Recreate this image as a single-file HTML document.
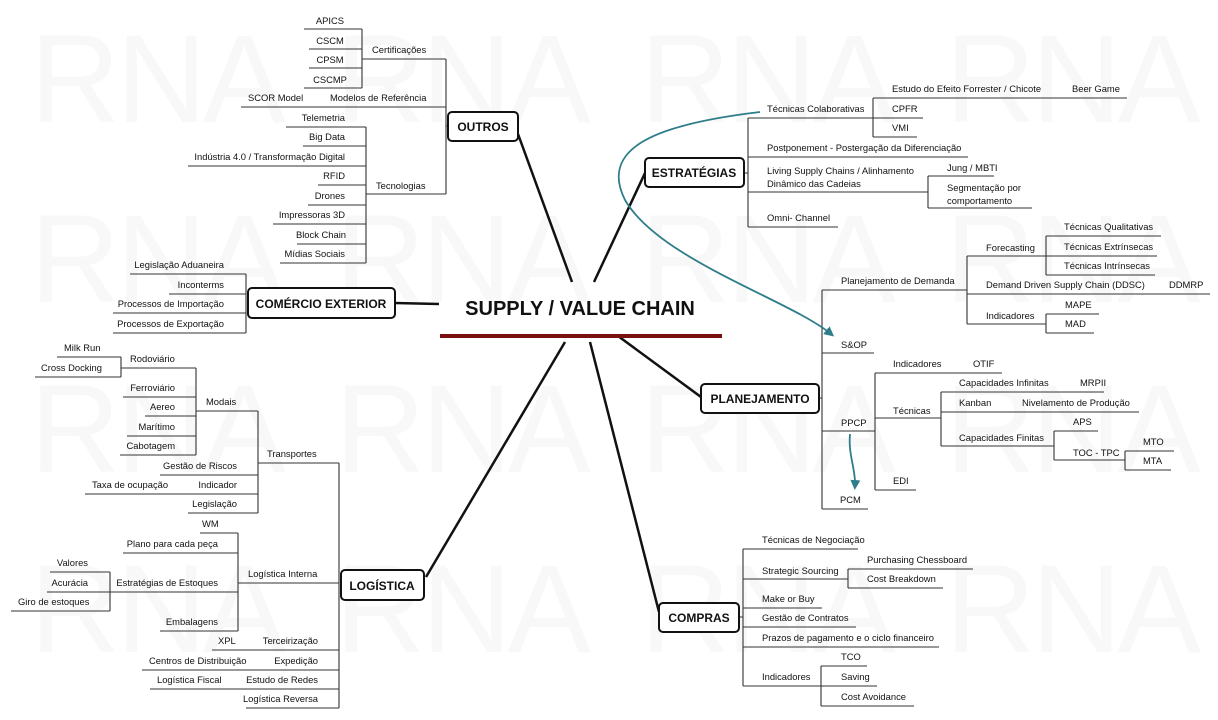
<!DOCTYPE html>
<html><head><meta charset="utf-8"><style>
html,body{margin:0;padding:0;background:#fff;}
svg{display:block;}
text{font-family:"Liberation Sans",sans-serif;font-size:9.4px;fill:#111;}
.b{font-weight:bold;font-size:12px;}
.e{text-anchor:end;}
.m{text-anchor:middle;}
.l{fill:none;stroke:#333;stroke-width:1.1;}
.box{fill:#fff;stroke:#111;stroke-width:2;}
.wm{font-size:125px;fill:#f8f8f8;font-family:"Liberation Sans",sans-serif;letter-spacing:-4px;}
</style></head><body>
<svg width="1218" height="720" viewBox="0 0 1218 720" xmlns="http://www.w3.org/2000/svg">
<defs><marker id="ar" markerWidth="10" markerHeight="10" refX="6" refY="5" orient="auto" markerUnits="userSpaceOnUse"><path d="M0,0 L10,5 L0,10 z" fill="#2e7d8a"/></marker></defs>

<!-- watermark -->
<g class="wm">
<text class="wm" x="30" y="122">RNA</text><text class="wm" x="335" y="122">RNA</text><text class="wm" x="640" y="122">RNA</text><text class="wm" x="945" y="122">RNA</text>
<text class="wm" x="30" y="302">RNA</text><text class="wm" x="335" y="302">RNA</text><text class="wm" x="640" y="302">RNA</text><text class="wm" x="945" y="302">RNA</text>
<text class="wm" x="30" y="472">RNA</text><text class="wm" x="335" y="472">RNA</text><text class="wm" x="640" y="472">RNA</text><text class="wm" x="945" y="472">RNA</text>
<text class="wm" x="30" y="652">RNA</text><text class="wm" x="335" y="652">RNA</text><text class="wm" x="640" y="652">RNA</text><text class="wm" x="945" y="652">RNA</text>
</g>

<!-- main connectors -->
<g stroke="#111" stroke-width="2.5" fill="none">
<path d="M518 134 L572 282"/>
<path d="M645 173 L594 282"/>
<path d="M618 336 L701 397"/>
<path d="M590 342 L659 612"/>
<path d="M565 342 L426 577"/>
<path d="M395 303 L439 304"/>
</g>

<!-- center -->
<text x="580" y="315" class="m" style="font-weight:bold;font-size:20px">SUPPLY / VALUE CHAIN</text>
<rect x="440" y="334" width="282" height="4" fill="#7a1010"/>

<!-- OUTROS -->
<path class="l" d="M304 29H362M309 49H362M309 68H362M304 88H362M362 29V88M362 59H446M446 59V194M241 107H446M366 127V263M286 127H366M303 146H366M188 166H366M318 185H366M308 205H366M273 224H366M297 244H366M280 263H366M366 194H446M446 126H448"/>
<text x="330" y="24" class="m">APICS</text>
<text x="330" y="44" class="m">CSCM</text>
<text x="330" y="63" class="m">CPSM</text>
<text x="330" y="83" class="m">CSCMP</text>
<text x="372" y="53">Certificações</text>
<text x="248" y="101">SCOR Model</text>
<text x="330" y="101">Modelos de Referência</text>
<text x="345" y="121" class="e">Telemetria</text>
<text x="345" y="140" class="e">Big Data</text>
<text x="345" y="160" class="e">Indústria 4.0 / Transformação Digital</text>
<text x="345" y="179" class="e">RFID</text>
<text x="345" y="199" class="e">Drones</text>
<text x="345" y="218" class="e">Impressoras 3D</text>
<text x="346" y="238" class="e">Block Chain</text>
<text x="345" y="257" class="e">Mídias Sociais</text>
<text x="376" y="189">Tecnologias</text>
<rect class="box" x="448" y="112" width="70" height="29" rx="4"/>
<text x="483" y="131" class="b m">OUTROS</text>

<!-- COMERCIO -->
<path class="l" d="M246 274V333M130 274H246M169 294H246M113 313H246M113 333H246"/>
<text x="224" y="268" class="e">Legislação Aduaneira</text>
<text x="224" y="288" class="e">Inconterms</text>
<text x="224" y="307" class="e">Processos de Importação</text>
<text x="224" y="327" class="e">Processos de Exportação</text>
<rect class="box" x="248" y="288" width="147" height="30" rx="4"/>
<text x="321" y="308" class="b m">COMÉRCIO EXTERIOR</text>

<!-- LOGISTICA -->
<path class="l" d="M339 463V708M258 463H339M258 411V513M196 411H258M196 368V455M121 368H196M121 357V377M57 357H121M35 377H121M123 397H196M145 416H196M127 436H196M120 455H196M160 475H258M85 494H258M188 513H258M238 583H339M238 533V631M200 533H238M123 553H238M110 592H238M110 572V611M50 572H110M47 592H110M11 611H110M160 631H238M212 650H339M142 670H339M150 689H339M246 708H339"/>
<text x="267" y="457">Transportes</text>
<text x="206" y="405">Modais</text>
<text x="130" y="362">Rodoviário</text>
<text x="64" y="351">Milk Run</text>
<text x="41" y="371">Cross Docking</text>
<text x="175" y="391" class="e">Ferroviário</text>
<text x="175" y="410" class="e">Aereo</text>
<text x="175" y="430" class="e">Marítimo</text>
<text x="175" y="449" class="e">Cabotagem</text>
<text x="237" y="469" class="e">Gestão de Riscos</text>
<text x="92" y="488">Taxa de ocupação</text>
<text x="237" y="488" class="e">Indicador</text>
<text x="237" y="507" class="e">Legislação</text>
<text x="202" y="527">WM</text>
<text x="218" y="547" class="e">Plano para cada peça</text>
<text x="218" y="586" class="e">Estratégias de Estoques</text>
<text x="88" y="566" class="e">Valores</text>
<text x="88" y="586" class="e">Acurácia</text>
<text x="18" y="605">Giro de estoques</text>
<text x="218" y="625" class="e">Embalagens</text>
<text x="248" y="577">Logística Interna</text>
<text x="218" y="644">XPL</text>
<text x="318" y="644" class="e">Terceirização</text>
<text x="149" y="664">Centros de Distribuição</text>
<text x="318" y="664" class="e">Expedição</text>
<text x="157" y="683">Logística Fiscal</text>
<text x="318" y="683" class="e">Estudo de Redes</text>
<text x="318" y="702" class="e">Logística Reversa</text>
<rect class="box" x="341" y="570" width="83" height="30" rx="4"/>
<text x="382" y="590" class="b m">LOGÍSTICA</text>

<!-- ESTRATEGIAS -->
<path class="l" d="M744 173H748M748 118V227M748 118H873M873 98V137M873 98H1127M873 118H923M873 137H917M748 157H968M748 192H928M928 176V208M928 176H994M928 208H1032M748 227H838"/>
<text x="767" y="112">Técnicas Colaborativas</text>
<text x="892" y="92">Estudo do Efeito Forrester / Chicote</text>
<text x="1072" y="92">Beer Game</text>
<text x="892" y="112">CPFR</text>
<text x="892" y="131">VMI</text>
<text x="767" y="151">Postponement - Postergação da Diferenciação</text>
<text x="767" y="174">Living Supply Chains / Alinhamento</text>
<text x="767" y="187">Dinâmico das Cadeias</text>
<text x="947" y="171">Jung / MBTI</text>
<text x="947" y="191">Segmentação por</text>
<text x="947" y="204">comportamento</text>
<text x="767" y="221">Omni- Channel</text>
<rect class="box" x="645" y="158" width="99" height="29" rx="4"/>
<text x="694" y="177" class="b m">ESTRATÉGIAS</text>

<!-- PLANEJAMENTO -->
<path class="l" d="M819 398H822M822 290V509M822 290H967M967 256V324M967 256H1046M1046 236V275M1046 236H1161M1046 256H1157M1046 275H1155M967 294H1210M967 324H1046M1046 314V333M1046 314H1099M1046 333H1094M822 353H874M822 431H875M875 373V490M875 373H1002M875 418H941M941 392V446M941 392H1104M941 412H1139M941 446H1054M1054 431V460M1054 431H1098M1054 460H1125M1125 451V470M1125 451H1174M1125 470H1171M875 490H916M822 509H868"/>
<text x="841" y="284">Planejamento de Demanda</text>
<text x="986" y="251">Forecasting</text>
<text x="1064" y="230">Técnicas Qualitativas</text>
<text x="1064" y="250">Técnicas Extrínsecas</text>
<text x="1064" y="269">Técnicas Intrínsecas</text>
<text x="986" y="288">Demand Driven Supply Chain (DDSC)</text>
<text x="1169" y="288">DDMRP</text>
<text x="986" y="319">Indicadores</text>
<text x="1065" y="308">MAPE</text>
<text x="1065" y="327">MAD</text>
<text x="841" y="348">S&amp;OP</text>
<text x="841" y="426">PPCP</text>
<text x="893" y="367">Indicadores</text>
<text x="973" y="367">OTIF</text>
<text x="893" y="414">Técnicas</text>
<text x="959" y="386">Capacidades Infinitas</text>
<text x="1080" y="386">MRPII</text>
<text x="959" y="406">Kanban</text>
<text x="1022" y="406">Nivelamento de Produção</text>
<text x="959" y="441">Capacidades Finitas</text>
<text x="1073" y="425">APS</text>
<text x="1073" y="456">TOC - TPC</text>
<text x="1143" y="445">MTO</text>
<text x="1143" y="464">MTA</text>
<text x="893" y="484">EDI</text>
<text x="840" y="503">PCM</text>
<rect class="box" x="701" y="384" width="118" height="29" rx="4"/>
<text x="760" y="403" class="b m">PLANEJAMENTO</text>

<!-- teal arrows -->
<path d="M760 112 C650 125 600 150 625 200 C660 260 790 300 831 334" fill="none" stroke="#2e7d8a" stroke-width="1.8" marker-end="url(#ar)"/>
<path d="M850 434 C848 455 856 470 855 486" fill="none" stroke="#2e7d8a" stroke-width="1.8" marker-end="url(#ar)"/>

<!-- COMPRAS -->
<path class="l" d="M739 617H743M743 549V686M743 549H858M743 579H848M848 569V588M848 569H973M848 588H943M743 608H822M743 627H856M743 647H939M743 686H821M821 666V706M821 666H867M821 686H877M821 706H914"/>
<text x="762" y="543">Técnicas de Negociação</text>
<text x="762" y="574">Strategic Sourcing</text>
<text x="867" y="563">Purchasing Chessboard</text>
<text x="867" y="582">Cost Breakdown</text>
<text x="762" y="602">Make or Buy</text>
<text x="762" y="621">Gestão de Contratos</text>
<text x="762" y="641">Prazos de pagamento e o ciclo financeiro</text>
<text x="762" y="680">Indicadores</text>
<text x="841" y="660">TCO</text>
<text x="841" y="680">Saving</text>
<text x="841" y="700">Cost Avoidance</text>
<rect class="box" x="659" y="603" width="80" height="29" rx="4"/>
<text x="699" y="622" class="b m">COMPRAS</text>
</svg>
</body></html>
